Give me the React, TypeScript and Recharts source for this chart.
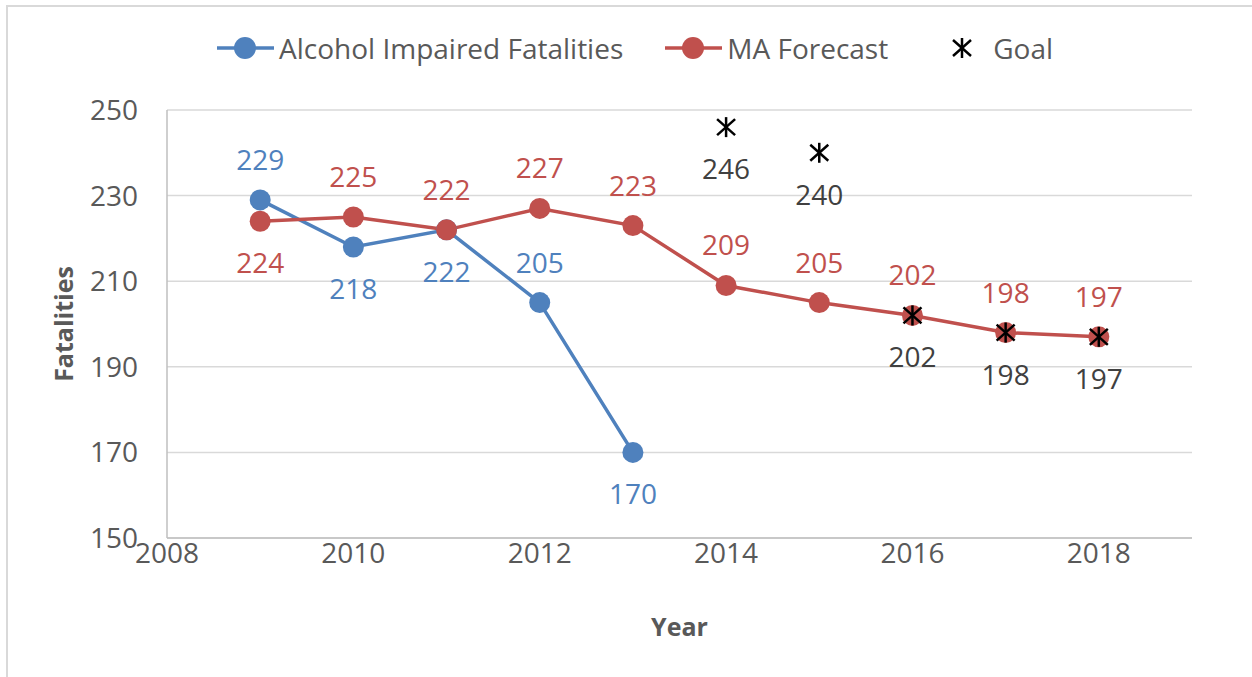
import React from "react";
import {
  CartesianGrid,
  Label,
  LabelList,
  Legend,
  Line,
  LineChart,
  XAxis,
  YAxis,
} from "recharts";

const years = [2009, 2010, 2011, 2012, 2013, 2014, 2015, 2016, 2017, 2018];
const alcohol = [229, 218, 222, 205, 170, null, null, null, null, null];
const forecast = [224, 225, 222, 227, 223, 209, 205, 202, 198, 197];
const goal = [null, null, null, null, null, 246, 240, 202, 198, 197];

const xTicks = [2008, 2010, 2012, 2014, 2016, 2018];
const yTicks = [150, 170, 190, 210, 230, 250];

// which side of the point each value label sits on
const alcoholLabelSide = ["top", "bottom", "bottom", "top", "bottom"];
const forecastLabelSide = ["bottom", "top", "top", "top", "top", "top", "top", "top", "top", "top"];

const BLUE = "#4F81BD";
const RED = "#C0504D";
const FONT = "'Open Sans', sans-serif";
const FS = 28;

const data = years.map((year, i) => ({
  year,
  alcohol: alcohol[i],
  forecast: forecast[i],
  goal: goal[i],
}));

const makeLabel = (color: string, sides: string[] | null) => (props: any) => {
  const { x, y, value, index } = props;
  if (value == null || x == null || y == null) return null;
  const below = sides ? sides[index] === "bottom" : true;
  return (
    <text
      x={x}
      y={below ? y + 52 : y - 30}
      textAnchor="middle"
      fill={color}
      fontSize={FS}
      fontFamily={FONT}
    >
      {Math.round(value)}
    </text>
  );
};

const Asterisk = ({ cx, cy, size = 9 }: { cx: number; cy: number; size?: number }) => (
  <g stroke="#000" strokeWidth={2.5} strokeLinecap="butt">
    <line x1={cx} y1={cy - size - 1} x2={cx} y2={cy + size + 1} />
    <line x1={cx - size} y1={cy - size + 1} x2={cx + size} y2={cy + size - 1} />
    <line x1={cx + size} y1={cy - size + 1} x2={cx - size} y2={cy + size - 1} />
  </g>
);

const GoalDot = (props: any) => {
  const { cx, cy, value } = props;
  if (value == null || cx == null || cy == null) return null;
  return <Asterisk cx={cx} cy={cy} />;
};

const renderLegend = () => (
  <div
    style={{
      display: "flex",
      alignItems: "center",
      height: 40,
      paddingLeft: 217,
      fontFamily: FONT,
      fontSize: FS,
      color: "#595959",
      whiteSpace: "nowrap",
    }}
  >
    <svg width={57} height={24}>
      <line x1={0} y1={12} x2={57} y2={12} stroke={BLUE} strokeWidth={3.5} />
      <circle cx={28} cy={12} r={11} fill={BLUE} />
    </svg>
    <span style={{ marginLeft: 5 }}>Alcohol Impaired Fatalities</span>
    <svg width={57} height={24} style={{ marginLeft: 42 }}>
      <line x1={0} y1={12} x2={57} y2={12} stroke={RED} strokeWidth={3.5} />
      <circle cx={28} cy={12} r={11} fill={RED} />
    </svg>
    <span style={{ marginLeft: 5 }}>MA Forecast</span>
    <svg width={22} height={24} style={{ marginLeft: 63 }}>
      <Asterisk cx={11} cy={12} />
    </svg>
    <span style={{ marginLeft: 20 }}>Goal</span>
  </div>
);

export default function App() {
  return (
    <div
      style={{
        position: "absolute",
        left: 0,
        top: 0,
        width: 1252,
        height: 677,
        background: "#fff",
        overflow: "hidden",
      }}
    >
      <div
        style={{
          position: "absolute",
          left: 6,
          top: 5,
          width: 1300,
          height: 700,
          borderTop: "2px solid #d9d9d9",
          borderLeft: "2px solid #d9d9d9",
        }}
      />
      <div style={{ position: "absolute", left: 0, top: 0 }}>
        <LineChart
          width={1252}
          height={677}
          data={data}
          margin={{ top: 110, right: 60, bottom: 39, left: 0 }}
        >
          <CartesianGrid stroke="#d9d9d9" strokeWidth={1.5} vertical={false} />
          <XAxis
            dataKey="year"
            type="number"
            domain={[2008, 2019]}
            ticks={xTicks}
            height={100}
            tickLine={false}
            tickSize={0}
            tickMargin={5}
            axisLine={{ stroke: "#bfbfbf", strokeWidth: 1.5 }}
            tick={{ fill: "#595959", fontSize: FS, fontFamily: FONT }}
          >
            <Label
              content={(p: any) => {
                const vb = p.viewBox;
                return (
                  <text
                    x={vb.x + vb.width / 2}
                    y={627 + 9}
                    textAnchor="middle"
                    fill="#595959"
                    fontWeight="bold"
                    fontSize={25}
                    fontFamily={FONT}
                  >
                    Year
                  </text>
                );
              }}
            />
          </XAxis>
          <YAxis
            type="number"
            domain={[150, 250]}
            ticks={yTicks}
            width={167}
            tickLine={false}
            tickSize={0}
            tickMargin={29}
            axisLine={{ stroke: "#bfbfbf", strokeWidth: 1.5 }}
            tick={{ fill: "#595959", fontSize: FS, fontFamily: FONT }}
          >
            <Label
              content={(p: any) => {
                const vb = p.viewBox;
                const cx = 63;
                const cy = vb.y + vb.height / 2;
                return (
                  <text
                    x={cx}
                    y={cy}
                    transform={`rotate(-90 ${cx} ${cy})`}
                    textAnchor="middle"
                    dominantBaseline="central"
                    fill="#595959"
                    fontWeight="bold"
                    fontSize={25}
                    fontFamily={FONT}
                  >
                    Fatalities
                  </text>
                );
              }}
            />
          </YAxis>
          <Legend
            verticalAlign="middle"
            align="center"
            layout="horizontal"
            content={renderLegend}
            wrapperStyle={{ top: 28, left: 0, width: 1252 }}
          />
          <Line
            dataKey="alcohol"
            stroke={BLUE}
            strokeWidth={3.5}
            dot={{ r: 10.5, fill: BLUE, stroke: BLUE, strokeWidth: 0 }}
            activeDot={false}
            isAnimationActive={false}
          >
            <LabelList dataKey="alcohol" content={makeLabel(BLUE, alcoholLabelSide)} />
          </Line>
          <Line
            dataKey="forecast"
            stroke={RED}
            strokeWidth={3.5}
            dot={{ r: 10.5, fill: RED, stroke: RED, strokeWidth: 0 }}
            activeDot={false}
            isAnimationActive={false}
          >
            <LabelList dataKey="forecast" content={makeLabel(RED, forecastLabelSide)} />
          </Line>
          <Line
            dataKey="goal"
            stroke="none"
            dot={<GoalDot />}
            activeDot={false}
            isAnimationActive={false}
          >
            <LabelList dataKey="goal" content={makeLabel("#404040", null)} />
          </Line>
        </LineChart>
      </div>
    </div>
  );
}
